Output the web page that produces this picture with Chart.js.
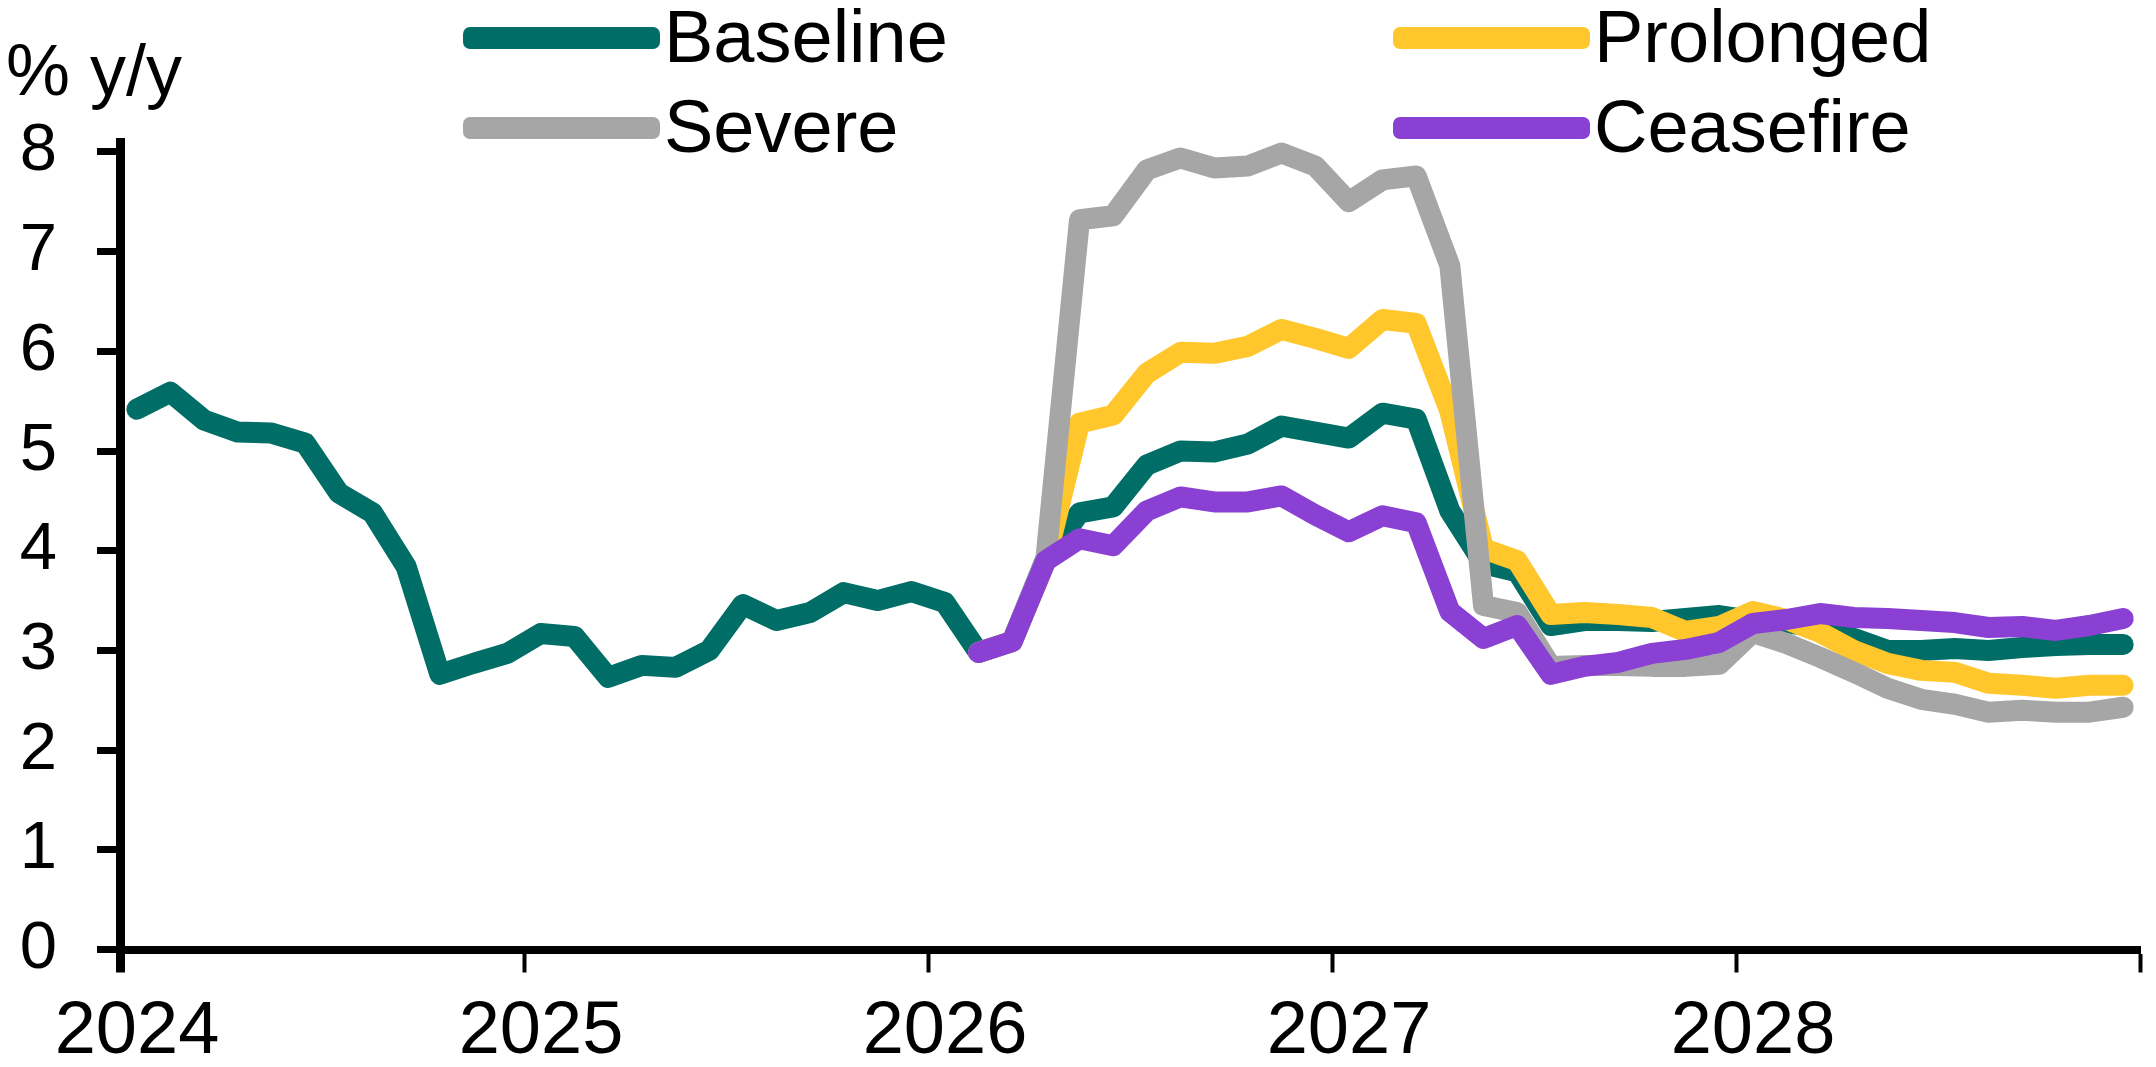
<!DOCTYPE html>
<html>
<head>
<meta charset="utf-8">
<title>Inflation scenarios</title>
<script src="https://cdn.jsdelivr.net/npm/chart.js@4.4.1/dist/chart.umd.min.js"></script>
<style>
    html, body { margin: 0; padding: 0; background: #fff; }
    #wrap { width: 2156px; height: 1067px; position: relative; }
</style>
</head>
<body>
<div id="wrap"><canvas id="cpiChart"></canvas></div>
<script>
// monthly data, Jan 2024 .. Dec 2028
const yearLabels = ['2024', '2025', '2026', '2027', '2028'];
const yTicks = [0, 1, 2, 3, 4, 5, 6, 7, 8];

const baseline = [
    5.42, 5.59, 5.31, 5.19, 5.18, 5.08, 4.58, 4.38, 3.84, 2.76, 2.87, 2.97,
    3.17, 3.14, 2.73, 2.85, 2.83, 3.00, 3.46, 3.30, 3.38, 3.58, 3.50, 3.59,
    3.48, 2.98, 3.09, 3.92, 4.38, 4.44, 4.86, 5.00, 4.99, 5.07, 5.25, 5.19,
    5.13, 5.38, 5.32, 4.40, 3.87, 3.79, 3.25, 3.30, 3.30, 3.29, 3.32, 3.35,
    3.30, 3.28, 3.23, 3.12, 3.00, 3.00, 3.02, 3.00, 3.03, 3.05, 3.06, 3.06
];
const prolonged = [
    null, null, null, null, null, null, null, null, null, null, null, null,
    null, null, null, null, null, null, null, null, null, null, null, null,
    null, 2.98, 3.09, 3.90, 5.28, 5.36, 5.78, 5.99, 5.98, 6.05, 6.22, 6.13,
    6.03, 6.32, 6.28, 5.40, 4.02, 3.90, 3.36, 3.38, 3.36, 3.33, 3.19, 3.24,
    3.39, 3.31, 3.18, 3.00, 2.87, 2.80, 2.78, 2.67, 2.65, 2.62, 2.65, 2.65
];
const severe = [
    null, null, null, null, null, null, null, null, null, null, null, null,
    null, null, null, null, null, null, null, null, null, null, null, null,
    null, 2.98, 3.09, 3.92, 7.32, 7.36, 7.82, 7.94, 7.84, 7.86, 7.99, 7.86,
    7.50, 7.72, 7.76, 6.86, 3.45, 3.38, 2.84, 2.85, 2.85, 2.84, 2.84, 2.86,
    3.18, 3.07, 2.93, 2.78, 2.62, 2.51, 2.46, 2.38, 2.40, 2.38, 2.38, 2.43
];
const ceasefire = [
    null, null, null, null, null, null, null, null, null, null, null, null,
    null, null, null, null, null, null, null, null, null, null, null, null,
    null, 2.98, 3.09, 3.90, 4.12, 4.05, 4.40, 4.54, 4.49, 4.49, 4.55, 4.36,
    4.19, 4.35, 4.28, 3.39, 3.12, 3.25, 2.76, 2.84, 2.88, 2.97, 3.01, 3.08,
    3.27, 3.31, 3.37, 3.33, 3.32, 3.30, 3.28, 3.23, 3.24, 3.20, 3.25, 3.32
];

const FONT = "'Liberation Sans', Arial, sans-serif";
const COLORS = {
    baseline: '#006E66',
    prolonged: '#FFC72C',
    severe: '#A6A6A6',
    ceasefire: '#8940D3'
};

// points sit mid-month on a month-index axis
function toPoints(values) {
    return values.map((v, i) => ({ x: i + 0.5, y: v }));
}

function lineSet(label, values, color, order) {
    return {
        label: label,
        data: toPoints(values),
        borderColor: color,
        backgroundColor: color,
        borderWidth: 21,
        borderCapStyle: 'round',
        borderJoinStyle: 'round',
        pointRadius: 0,
        tension: 0,
        clip: false,
        order: order
    };
}

// legend (2 x 2) and unit label, drawn on the canvas
const legendItems = [
    { label: 'Baseline', color: COLORS.baseline, col: 0, row: 0 },
    { label: 'Prolonged', color: COLORS.prolonged, col: 1, row: 0 },
    { label: 'Severe', color: COLORS.severe, col: 0, row: 1 },
    { label: 'Ceasefire', color: COLORS.ceasefire, col: 1, row: 1 }
];

const overlayPlugin = {
    id: 'overlay',
    afterDraw(chart) {
        const ctx = chart.ctx;
        const colX = [463, 1393];
        const rowY = [38, 128];
        ctx.save();
        ctx.fillStyle = '#000';
        ctx.textBaseline = 'alphabetic';
        ctx.font = '72px ' + FONT;
        ctx.fillText('% y/y', 6, 95);

        ctx.font = '74px ' + FONT;
        legendItems.forEach(item => {
            const x = colX[item.col];
            const y = rowY[item.row];
            ctx.fillStyle = item.color;
            ctx.beginPath();
            ctx.roundRect(x, y - 11, 197, 22, 7);
            ctx.fill();
            ctx.fillStyle = '#000';
            ctx.fillText(item.label, x + 201, y + 24);
        });
        ctx.restore();
    }
};

new Chart(document.getElementById('cpiChart'), {
    type: 'line',
    data: {
        datasets: [
            lineSet('Ceasefire', ceasefire, COLORS.ceasefire, 0),
            lineSet('Severe', severe, COLORS.severe, 1),
            lineSet('Prolonged', prolonged, COLORS.prolonged, 2),
            lineSet('Baseline', baseline, COLORS.baseline, 3)
        ]
    },
    options: {
        responsive: true,
        maintainAspectRatio: false,
        animation: false,
        layout: { padding: { top: 142, right: 8.5, left: 0, bottom: 0 } },
        plugins: {
            legend: { display: false },
            tooltip: { enabled: false }
        },
        scales: {
            x: {
                type: 'linear',
                min: 0,
                max: 60,
                ticks: {
                    stepSize: 12,
                    autoSkip: false,
                    maxRotation: 0,
                    padding: 16,
                    labelOffset: 17,
                    color: '#000',
                    font: { size: 74, family: FONT },
                    callback: v => yearLabels[v / 12] || ''
                },
                grid: {
                    drawOnChartArea: false,
                    tickLength: 23,
                    tickColor: '#000',
                    tickWidth: c => (c.index === 0 ? 9 : 4)
                },
                border: { display: true, width: 8, color: '#000' },
                afterFit(scale) { scale.height = 117.5; }
            },
            y: {
                min: 0,
                max: 8.1,
                afterBuildTicks(scale) {
                    scale.ticks = yTicks.map(v => ({ value: v }));
                },
                ticks: {
                    padding: 40,
                    color: '#000',
                    font: { size: 67, family: FONT }
                },
                grid: {
                    drawOnChartArea: false,
                    tickLength: 23,
                    tickWidth: 7,
                    tickColor: '#000'
                },
                border: { display: true, width: 9, color: '#000' },
                afterFit(scale) { scale.width = 120; }
            }
        }
    },
    plugins: [overlayPlugin]
});
</script>
</body>
</html>
